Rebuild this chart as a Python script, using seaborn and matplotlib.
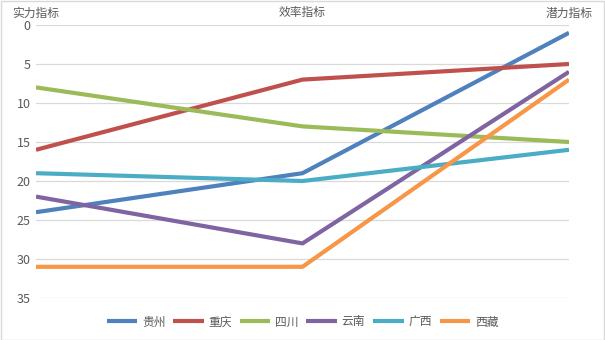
import matplotlib
matplotlib.use("Agg")
import matplotlib.pyplot as plt
import seaborn as sns
import pandas as pd
from matplotlib.patches import Rectangle

# Indicator categories along the top axis
indicators = ["实力指标", "效率指标", "潜力指标"]

# Ranking of each province on the three indicators
guizhou = [24, 19, 1]
chongqing = [16, 7, 5]
sichuan = [8, 13, 15]
yunnan = [22, 28, 6]
guangxi = [19, 20, 16]
xizang = [31, 31, 7]

provinces = ["贵州", "重庆", "四川", "云南", "广西", "西藏"]
series = [guizhou, chongqing, sichuan, yunnan, guangxi, xizang]
colors = ["#4F81BD", "#C0504D", "#9BBB59", "#8064A2", "#4BACC6", "#F79646"]

y_ticks = [0, 5, 10, 15, 20, 25, 30, 35]

rows = []
for name, vals in zip(provinces, series):
    for i, v in enumerate(vals):
        rows.append({"指标": i, "排名": v, "省份": name})
df = pd.DataFrame(rows)

sns.set_theme(style="white")
plt.rcParams["font.family"] = ["Noto Sans CJK SC", "DejaVu Sans"]

fig = plt.figure(figsize=(6.05, 3.4), dpi=100)
ax = fig.add_axes([36 / 605, 1 - 298 / 340, (569 - 36) / 605, (298 - 25) / 340])

sns.lineplot(data=df, x="指标", y="排名", hue="省份", hue_order=provinces,
             palette=colors, linewidth=3.0, ax=ax, legend=False,
             solid_capstyle="butt")

ax.set_xlim(0, len(indicators) - 1)
ax.set_ylim(35, 0)
ax.set_yticks(y_ticks)
ax.set_xticks(range(len(indicators)))
ax.set_xticklabels(indicators)
ax.xaxis.tick_top()
ax.tick_params(axis="x", length=0, pad=4, labelsize=8.5, labelcolor="#595959")
ax.tick_params(axis="y", length=0, pad=4, labelsize=9, labelcolor="#595959")
ax.set_xlabel("")
ax.set_ylabel("")
ax.grid(axis="y", color="#d9d9d9", linewidth=0.9)
ax.set_axisbelow(True)
for s in ax.spines.values():
    s.set_visible(False)

handles = [plt.Line2D([], [], color=c, linewidth=3.0, solid_capstyle="butt") for c in colors]
leg = fig.legend(handles, provinces, loc="center", bbox_to_anchor=(0.5, 1 - 322 / 340),
                 ncol=6, frameon=False, fontsize=8.5, handlelength=2.6,
                 handletextpad=0.4, columnspacing=0.65)
for t in leg.get_texts():
    t.set_color("#595959")

fig.patches.append(Rectangle((0.5 / 605, 0.5 / 340), 1 - 1.5 / 605, 1 - 1.5 / 340,
                             transform=fig.transFigure, fill=False,
                             edgecolor="#d9d9d9", linewidth=1.0))

fig.savefig("out.png", dpi=100, facecolor="white")
